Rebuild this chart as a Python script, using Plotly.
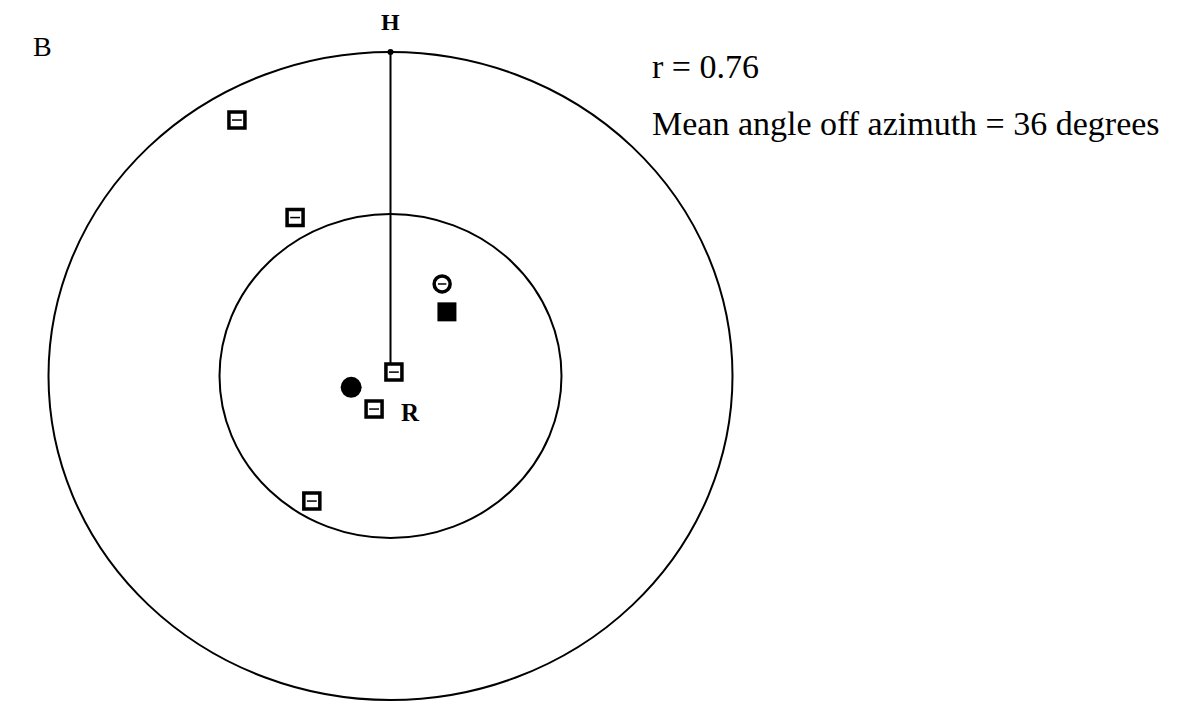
import plotly.graph_objects as go

# Normalized coordinates (outer circle radius = 1, inner circle radius = 0.5)
open_sq_x = [-0.449, -0.279, 0.010, -0.048, -0.230]
open_sq_y = [0.790, 0.489, 0.012, -0.102, -0.386]
filled_circle_x = [-0.115]
filled_circle_y = [-0.035]
open_circle_x = [0.151]
open_circle_y = [0.284]
filled_sq_x = [0.165]
filled_sq_y = [0.198]
outer_r = 1.0
inner_r = 0.5
mean_vec_x = [0.0, 0.0]
mean_vec_y = [1.0, 0.03]
stats_text = ["r = 0.76", "Mean angle off azimuth = 36 degrees"]

W, H = 1185, 715
OFF = 8  # page body margin
cx_px, cy_px, rx_px, ry_px = 390.5 - OFF, 376.0 - OFF, 342.0, 324.0
x_range = [(0 - cx_px) / rx_px, (W - cx_px) / rx_px]
y_range = [(cy_px - H) / ry_px, (cy_px - 0) / ry_px]


def px(x):
    return (x - OFF) / W


def py(y):
    return 1 - (y - OFF) / H


fig = go.Figure()

for r in (outer_r, inner_r):
    fig.add_shape(type="circle", xref="x", yref="y", x0=-r, x1=r, y0=-r, y1=r,
                  line=dict(color="black", width=2))

fig.add_trace(go.Scatter(x=mean_vec_x, y=mean_vec_y, mode="lines",
                         line=dict(color="black", width=2), showlegend=False))
fig.add_trace(go.Scatter(x=[mean_vec_x[0]], y=[mean_vec_y[0]], mode="markers",
                         marker=dict(color="black", size=6), showlegend=False))

fig.add_trace(go.Scatter(x=open_sq_x, y=open_sq_y, mode="markers",
                         marker=dict(symbol="square", size=16, color="white",
                                     line=dict(color="black", width=3.5)),
                         showlegend=False))
fig.add_trace(go.Scatter(x=open_sq_x, y=open_sq_y, mode="markers",
                         marker=dict(symbol="line-ew", size=7,
                                     line=dict(color="black", width=1.5)),
                         showlegend=False))
fig.add_trace(go.Scatter(x=filled_circle_x, y=filled_circle_y, mode="markers",
                         marker=dict(symbol="circle", size=21, color="black"),
                         showlegend=False))
fig.add_trace(go.Scatter(x=open_circle_x, y=open_circle_y, mode="markers",
                         marker=dict(symbol="circle", size=16, color="white",
                                     line=dict(color="black", width=3.5)),
                         showlegend=False))
fig.add_trace(go.Scatter(x=open_circle_x, y=open_circle_y, mode="markers",
                         marker=dict(symbol="line-ew", size=6,
                                     line=dict(color="black", width=1.5)),
                         showlegend=False))
fig.add_trace(go.Scatter(x=filled_sq_x, y=filled_sq_y, mode="markers",
                         marker=dict(symbol="square", size=19, color="black"),
                         showlegend=False))

font = "Liberation Serif, Times New Roman, serif"
fig.add_annotation(x=0.0, y=(376.0 - 22) / ry_px, xref="x", yref="y", text="<b>H</b>",
                   showarrow=False, font=dict(family=font, size=24, color="black"))
fig.add_annotation(x=(410 - 390.5) / rx_px, y=(376.0 - 412) / ry_px, xref="x", yref="y",
                   text="<b>R</b>", showarrow=False,
                   font=dict(family=font, size=25, color="black"))
fig.add_annotation(x=px(31), y=py(46), xref="paper", yref="paper", text="B",
                   showarrow=False, xanchor="left", yanchor="middle",
                   font=dict(family=font, size=28, color="black"))
fig.add_annotation(x=px(650), y=py(67), xref="paper", yref="paper", text=stats_text[0],
                   showarrow=False, xanchor="left", yanchor="middle",
                   font=dict(family=font, size=34, color="black"))
fig.add_annotation(x=px(650), y=py(124), xref="paper", yref="paper", text=stats_text[1],
                   showarrow=False, xanchor="left", yanchor="middle",
                   font=dict(family=font, size=34, color="black"))

fig.update_xaxes(range=x_range, visible=False, domain=[0, 1])
fig.update_yaxes(range=y_range, visible=False, domain=[0, 1])
fig.update_layout(width=W, height=H, margin=dict(l=0, r=0, t=0, b=0),
                  plot_bgcolor="white", paper_bgcolor="white")

fig.write_html("out.html")
